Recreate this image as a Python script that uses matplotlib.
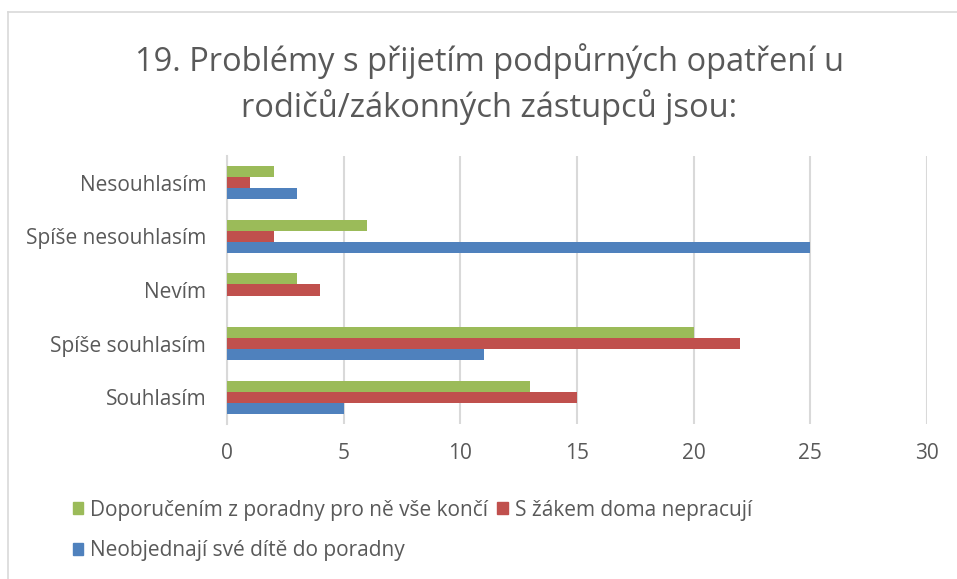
import numpy as np
import matplotlib.pyplot as plt
from matplotlib.lines import Line2D
from matplotlib.patches import Patch

plt.rcParams['font.family'] = ['Open Sans', 'DejaVu Sans']

categories = ['Souhlasím', 'Spíše souhlasím', 'Nevím', 'Spíše nesouhlasím', 'Nesouhlasím']
neobjednaji = [5, 11, 0, 25, 3]
nepracuji = [15, 22, 4, 2, 1]
doporucenim = [13, 20, 3, 6, 2]

labels = ['Doporučením z poradny pro ně vše končí',
          'S žákem doma nepracují',
          'Neobjednají své dítě do poradny']
title = '19. Problémy s přijetím podpůrných opatření u\nrodičů/zákonných zástupců jsou:'
colors = ['#9BBB59', '#C0504D', '#4F81BD']
text_col = '#595959'
grid_col = '#D9D9D9'

fig = plt.figure(figsize=(9.57, 5.79), dpi=100)
ax = fig.add_axes([0.2372, 0.2677, 0.7315, 0.4629])

y = np.arange(len(categories))
h = 0.206
ax.barh(y + h, doporucenim, height=h, color=colors[0], zorder=3)
ax.barh(y, nepracuji, height=h, color=colors[1], zorder=3)
ax.barh(y - h, neobjednaji, height=h, color=colors[2], zorder=3)

ax.set_xlim(0, 30)
ax.set_ylim(-0.5, len(categories) - 0.5)
ax.set_xticks(range(0, 31, 5))
ax.set_yticks(y)
ax.set_yticklabels(categories)
ax.grid(axis='x', color=grid_col, linewidth=1.5, zorder=0)
for s in ['top', 'right', 'bottom']:
    ax.spines[s].set_visible(False)
ax.spines['left'].set_color(grid_col)
ax.spines['left'].set_linewidth(1.5)
ax.tick_params(length=0, labelsize=15, colors=text_col)
ax.tick_params(axis='y', pad=15)
ax.tick_params(axis='x', pad=14)

fig.text(0.511, 0.855, title, ha='center', va='center', fontsize=23.5,
         color=text_col, linespacing=1.36)

handles = [Patch(color=colors[0]), Patch(color=colors[2]), Patch(color=colors[1])]
leg_labels = [labels[0], labels[2], labels[1]]
fig.legend(handles, leg_labels, ncol=2, loc='upper left', bbox_to_anchor=(0.076, 0.137),
           frameon=False, fontsize=15, labelcolor=text_col, handlelength=0.5,
           handleheight=0.5, handletextpad=0.33, columnspacing=0.45, labelspacing=0.95,
           borderaxespad=0, borderpad=0)

# outer chart border
fig.add_artist(Line2D([8 / 957, 8 / 957], [0, 1 - 12 / 579], color=grid_col, lw=1.2))
fig.add_artist(Line2D([8 / 957, 1], [1 - 12 / 579, 1 - 12 / 579], color=grid_col, lw=1.2))

fig.savefig('out.png', dpi=100)
